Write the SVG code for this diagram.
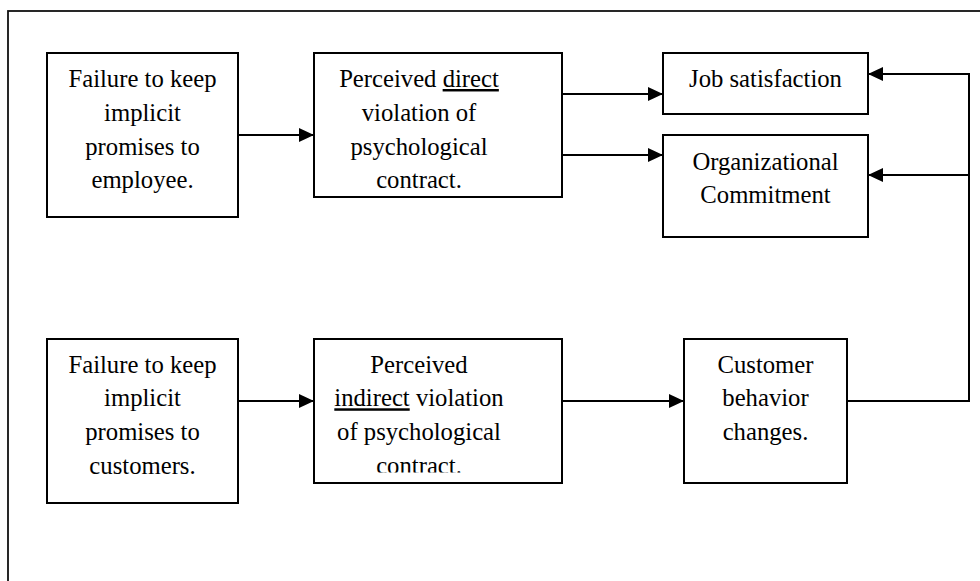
<svg xmlns="http://www.w3.org/2000/svg" width="980" height="581" viewBox="0 0 980 581">
<style>
.box{fill:#fff;stroke:#000;stroke-width:2}
.frame{fill:none;stroke:#111;stroke-width:1.8}
.t{font-family:"Liberation Serif","Times New Roman",serif;font-size:24.7px;fill:#000;text-anchor:middle}
.c{fill:none;stroke:#000;stroke-width:2}
.u{text-decoration:underline}
</style>
<defs>
<marker id="ah" markerUnits="userSpaceOnUse" markerWidth="16" markerHeight="14" refX="15" refY="7" orient="auto">
<path d="M0,0 L15,7 L0,14 Z" fill="#000"/>
</marker>
<clipPath id="clip4"><rect x="314" y="339" width="248" height="133.5"/></clipPath>
</defs>
<rect class="frame" x="8" y="11" width="1000" height="620"/>
<g id="n1">
<rect class="box" x="47" y="53" width="191" height="164"/>
<text class="t"><tspan x="142.5" y="87">Failure to keep</tspan><tspan x="142.5" y="121">implicit</tspan><tspan x="142.5" y="154.5">promises to</tspan><tspan x="142.5" y="188">employee.</tspan></text>
</g>
<g id="n2">
<rect class="box" x="314" y="53" width="248" height="144"/>
<text class="t"><tspan x="419" y="87">Perceived <tspan class="u">direct</tspan></tspan><tspan x="419" y="121">violation of</tspan><tspan x="419" y="154.5">psychological</tspan><tspan x="419" y="188">contract.</tspan></text>
</g>
<g id="n3">
<rect class="box" x="663" y="53" width="205" height="61"/>
<text class="t" x="765.5" y="87">Job satisfaction</text>
</g>
<g id="n4">
<rect class="box" x="663" y="135" width="205" height="102"/>
<text class="t"><tspan x="765.5" y="169.5">Organizational</tspan><tspan x="765.5" y="203">Commitment</tspan></text>
</g>
<g id="n5">
<rect class="box" x="47" y="339" width="191" height="164"/>
<text class="t"><tspan x="142.5" y="372.7">Failure to keep</tspan><tspan x="142.5" y="406.3">implicit</tspan><tspan x="142.5" y="440">promises to</tspan><tspan x="142.5" y="473.7">customers.</tspan></text>
</g>
<g id="n6">
<rect class="box" x="314" y="339" width="248" height="144"/>
<text class="t" clip-path="url(#clip4)"><tspan x="419" y="372.7">Perceived</tspan><tspan x="419" y="406.3"><tspan class="u">indirect</tspan> violation</tspan><tspan x="419" y="440">of psychological</tspan><tspan x="419" y="474">contract.</tspan></text>
</g>
<g id="n7">
<rect class="box" x="684" y="339" width="163" height="144"/>
<text class="t"><tspan x="765.5" y="372.7">Customer</tspan><tspan x="765.5" y="406.3">behavior</tspan><tspan x="765.5" y="440">changes.</tspan></text>
</g>
<g id="connectors">
<path class="c" d="M238,135 H314" marker-end="url(#ah)"/>
<path class="c" d="M562,94 H663" marker-end="url(#ah)"/>
<path class="c" d="M562,155 H663" marker-end="url(#ah)"/>
<path class="c" d="M238,401 H314" marker-end="url(#ah)"/>
<path class="c" d="M562,401 H684" marker-end="url(#ah)"/>
<path class="c" d="M847,401 H969 V74 H868" marker-end="url(#ah)"/>
<path class="c" d="M969,175 H868" marker-end="url(#ah)"/>
</g>
</svg>
